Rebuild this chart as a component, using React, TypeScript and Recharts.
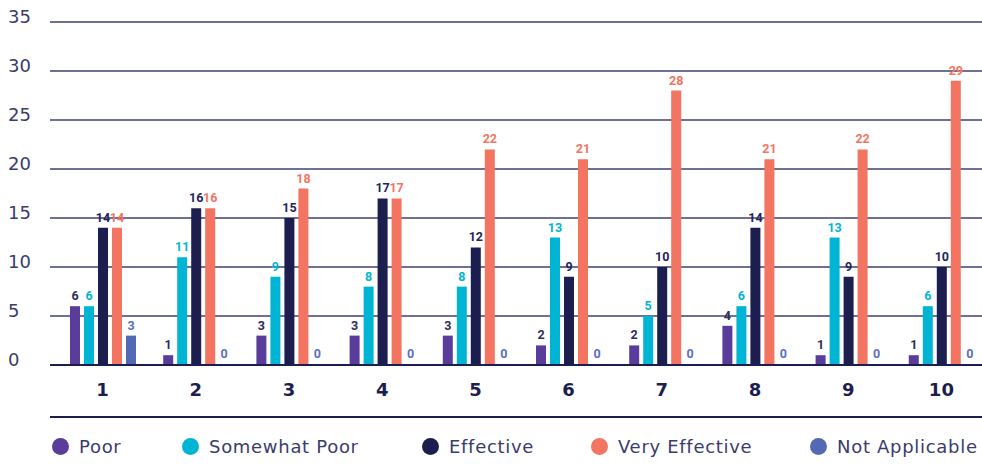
import React from 'react';
import { BarChart, Bar, XAxis, YAxis, CartesianGrid, LabelList, Rectangle } from 'recharts';

const categories = ['1', '2', '3', '4', '5', '6', '7', '8', '9', '10'];
const poor = [6, 1, 3, 3, 3, 2, 2, 4, 1, 1];
const somewhatPoor = [6, 11, 9, 8, 8, 13, 5, 6, 13, 6];
const effective = [14, 16, 15, 17, 12, 9, 10, 14, 9, 10];
const veryEffective = [14, 16, 18, 17, 22, 21, 28, 21, 22, 29];
const notApplicable = [3, 0, 0, 0, 0, 0, 0, 0, 0, 0];
const yTicks = [0, 5, 10, 15, 20, 25, 30, 35];

const FONT = '"DejaVu Sans", sans-serif';
const NAVY = '#1c1e50';
const TEXT = '#3a3c6b';

const series = [
  { key: 'poor', name: 'Poor', color: '#5a3d9a', labelColor: '#2b2d5a', legendX: 52 },
  { key: 'somewhatPoor', name: 'Somewhat Poor', color: '#00b5d3', labelColor: '#00b5d3', legendX: 182 },
  { key: 'effective', name: 'Effective', color: NAVY, labelColor: '#23255a', legendX: 422 },
  { key: 'veryEffective', name: 'Very Effective', color: '#f27461', labelColor: '#f27461', legendX: 591 },
  { key: 'notApplicable', name: 'Not Applicable', color: '#5369b3', labelColor: '#5a6fbf', legendX: 810 },
];

const data = categories.map((name, i) => ({
  name,
  poor: poor[i],
  somewhatPoor: somewhatPoor[i],
  effective: effective[i],
  veryEffective: veryEffective[i],
  notApplicable: notApplicable[i],
}));

const YTick = ({ y, payload }: any) => (
  <text x={8} y={y} dy={1} fill={TEXT} fontSize={18} fontFamily={FONT} textAnchor="start">
    {payload.value}
  </text>
);

const XTick = ({ x, y, payload }: any) => (
  <text x={x} y={y} dy={29} fill={NAVY} fontSize={18} fontWeight="bold" fontFamily={FONT} textAnchor="middle">
    {payload.value}
  </text>
);

// zero values get a 1px bar so their label still shows; don't paint it
const makeShape = (key: string) => (props: any) =>
  props.payload && props.payload[key] === 0 ? <g /> : <Rectangle {...props} />;

export default function App() {
  return (
    <div style={{ position: 'absolute', left: 0, top: 0, width: 982, height: 474, overflow: 'hidden', background: '#fff' }}>
      <BarChart
        width={988}
        height={400}
        data={data}
        margin={{ top: 22, right: 0, left: 0, bottom: 0 }}
        barSize={10}
        barGap={4}
      >
        <CartesianGrid vertical={false} stroke="#3e4170" strokeWidth={1.3} />
        <XAxis
          dataKey="name"
          height={35}
          padding={{ left: 6, right: 0 }}
          tickLine={false}
          tickSize={0}
          axisLine={{ stroke: NAVY, strokeWidth: 2 }}
          tick={<XTick />}
          interval={0}
        />
        <YAxis
          width={50}
          domain={[0, 35]}
          ticks={yTicks}
          axisLine={false}
          tickLine={false}
          tick={<YTick />}
        />
        {series.map((s) => (
          <Bar
            key={s.key}
            dataKey={s.key}
            name={s.name}
            fill={s.color}
            minPointSize={1}
            shape={makeShape(s.key)}
            isAnimationActive={false}
          >
            <LabelList
              dataKey={s.key}
              position="top"
              offset={6}
              fill={s.labelColor}
              fontSize={12.5}
              fontWeight={700}
              fontFamily="Roboto, sans-serif"
            />
          </Bar>
        ))}
      </BarChart>
      <div style={{ position: 'absolute', left: 50, top: 416, width: 940, height: 2, background: NAVY }} />
      {series.map((s) => (
        <div
          key={s.key}
          style={{
            position: 'absolute',
            left: s.legendX,
            top: 436,
            height: 21,
            display: 'flex',
            alignItems: 'center',
            fontFamily: FONT,
            fontSize: 18,
            letterSpacing: 0.7,
            color: TEXT,
            whiteSpace: 'nowrap',
          }}
        >
          <span
            style={{
              display: 'inline-block',
              width: 17,
              height: 17,
              borderRadius: '50%',
              background: s.color,
              marginRight: 10,
            }}
          />
          <span>{s.name}</span>
        </div>
      ))}
    </div>
  );
}
